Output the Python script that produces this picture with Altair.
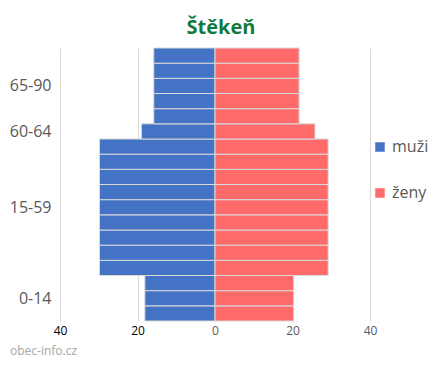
import altair as alt
import pandas as pd

# ---- data ----
groups = ["0-14", "15-59", "60-64", "65-90"]
rows_per_group = [3, 9, 1, 5]
men = [18.1, 29.8, 19.0, 15.8]
women = [20.3, 29.2, 25.8, 21.7]
sexes = ["muži", "ženy"]
colors = ["#4472C4", "#FF6B6B"]
x_ticks = [-40, -20, 0, 20, 40]
title_text = "Štěkeň"
source_text = "obec-info.cz"

records = []
centers = []
r = 0
for g, n, m, w in zip(groups, rows_per_group, men, women):
    centers.append(r + n / 2)
    for i in range(n):
        records.append({"row": r, "row2": r + 1, "sex": sexes[0], "start": -m, "end": 0, "group": g})
        records.append({"row": r, "row2": r + 1, "sex": sexes[1], "start": 0, "end": w, "group": g})
        r += 1
total_rows = r
df = pd.DataFrame(records)

label_expr = "".join(f"datum.value == {c} ? '{g}' : " for c, g in zip(centers, groups)) + "''"

FONT = "Open Sans"

bars = alt.Chart(df).mark_bar(stroke="#d9d9d9", strokeWidth=1).encode(
    x=alt.X(
        "start:Q",
        scale=alt.Scale(domain=[x_ticks[0], x_ticks[-1]], nice=False),
        axis=alt.Axis(
            values=x_ticks,
            labelExpr="abs(datum.value)",
            labelFlush=False,
            grid=True,
            gridColor="#d9d9d9",
            domain=False,
            ticks=False,
            labelFontSize=12,
            labelFont=FONT,
            labelColor={"condition": {"test": "datum.value < 0", "value": "#000000"}, "value": "#595959"},
            labelPadding=4,
            title=None,
        ),
    ),
    x2="end:Q",
    y=alt.Y(
        "row:Q",
        scale=alt.Scale(domain=[0, total_rows], nice=False, zero=False),
        axis=alt.Axis(
            values=centers,
            labelExpr=label_expr,
            grid=False,
            domain=False,
            ticks=False,
            labelFontSize=16,
            labelFont=FONT,
            labelColor="#595959",
            labelPadding=9,
            title=None,
        ),
    ),
    y2="row2:Q",
    color=alt.Color(
        "sex:N",
        scale=alt.Scale(domain=sexes, range=colors),
        legend=alt.Legend(
            title=None,
            orient="none",
            legendX=312,
            legendY=91,
            symbolType="square",
            symbolSize=90,
            symbolStrokeWidth=0,
            labelFontSize=16,
            labelFont=FONT,
            labelColor="#595959",
            rowPadding=30,
        ),
    ),
)

wm = alt.Chart(pd.DataFrame({"t": [source_text]})).mark_text(
    align="left", baseline="middle", fontSize=12, color="#a6a6a6", font=FONT
).encode(text="t:N", x=alt.value(-50), y=alt.value(303))

chart = alt.layer(bars, wm).properties(
    width=310,
    height=273,
    padding={"left": 52, "top": 40, "right": 65, "bottom": 44},
    autosize=alt.AutoSizeParams(type="none"),
    background="white",
    title=alt.TitleParams(
        title_text,
        fontSize=20,
        font=FONT,
        fontWeight="bold",
        color="#127A3E",
        anchor="middle",
        offset=10,
        dx=6,
    ),
).configure_view(stroke=None)

chart.save("out.html", embed_options={"renderer": "svg", "actions": False})
